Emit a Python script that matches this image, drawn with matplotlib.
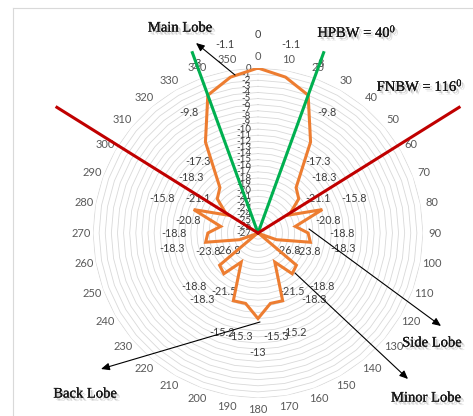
import numpy as np
import matplotlib
matplotlib.use("Agg")
import matplotlib.pyplot as plt
import matplotlib.patheffects as pe
from matplotlib.lines import Line2D

# Radiation pattern (dB) sampled every 10 degrees
angles_deg = list(range(0, 360, 10))
gain_db = [0, -1.1, -3, -9.8, -17.3, -18.3, -21.1, -15.8, -20.8, -18.8,
           -18.3, -23.8, -26.8, -18.8, -18.3, -21.5, -15.2, -15.3, -13,
           -15.3, -15.2, -21.5, -18.3, -18.8, -26.8, -23.8, -18.3, -18.8,
           -20.8, -15.8, -21.1, -18.3, -17.3, -9.8, -3, -1.1]
radial_ticks = list(range(0, -28, -1))
r_min, r_max = -27, 0

# Beamwidth markers (degrees either side of boresight)
hpbw_half = 20
fnbw_half = 58
hpbw_text = "HPBW = 40$^{0}$"
fnbw_text = "FNBW = 116$^{0}$"

plt.rcParams["mathtext.fontset"] = "custom"
plt.rcParams["mathtext.rm"] = "Liberation Serif"
plt.rcParams["mathtext.it"] = "Liberation Serif"

W, H = 473, 416
fig = plt.figure(figsize=(W / 100, H / 100), dpi=100)
fig.patch.set_facecolor("white")

# light chart-area border
fig.add_artist(Line2D([13 / W, 13 / W], [0, 1 - 8 / H], transform=fig.transFigure,
                      color="#d9d9d9", lw=0.8))
fig.add_artist(Line2D([13 / W, 1], [1 - 8 / H, 1 - 8 / H], transform=fig.transFigure,
                      color="#d9d9d9", lw=0.8))

cx, cy, R = 258, 233, 165
ax = fig.add_axes([(cx - R) / W, (H - cy - R) / H, 2 * R / W, 2 * R / H],
                  projection="polar")
ax.set_theta_zero_location("N")
ax.set_theta_direction(-1)
ax.set_ylim(r_min, r_max)
ax.grid(False)
ax.set_xticks([])
ax.set_yticks([])
ax.spines["polar"].set_visible(False)
ax.patch.set_alpha(0)

theta = np.deg2rad(angles_deg)
theta_c = np.append(theta, theta[0])

# polygonal grid rings
for v in range(r_min + 1, r_max + 1):
    ax.plot(theta_c, [v] * len(theta_c), color="#d9d9d9", lw=0.6, zorder=1)

# category labels around the rim
for a in angles_deg:
    ax.text(np.deg2rad(a), r_max + 1.9, str(a), ha="center", va="center",
            color="#595959", clip_on=False, family="Lato", fontsize=8)

# radial axis values along the 0 degree spoke
for v in radial_ticks:
    ax.annotate(str(v), xy=(0, v), xytext=(-5, 0), textcoords="offset points",
                ha="right", va="center", color="#404040", family="Lato",
                fontsize=7)

# data labels
for a, g in zip(angles_deg, gain_db):
    ax.text(np.deg2rad(a), g + 5.5, f"{g:g}", ha="center", va="center",
            color="#404040", clip_on=False, zorder=2, family="Lato",
            fontsize=7.8)

# pattern
g_c = np.append(gain_db, gain_db[0])
ax.plot(theta_c, g_c, color="#ed7d31", lw=2.2, zorder=3, solid_joinstyle="miter")

# beamwidth lines
for s in (-1, 1):
    ax.plot([0, np.deg2rad(s * hpbw_half)], [r_min, 4.4], color="#00b050",
            lw=2.2, clip_on=False, zorder=4)
for s in (-1, 1):
    ax.plot([0, np.deg2rad(s * fnbw_half)], [r_min, 11.8], color="#c00000",
            lw=2.2, clip_on=False, zorder=5)

# callouts
shadow = [pe.withSimplePatchShadow(offset=(1.5, -1.5), shadow_rgbFace="k", alpha=0.18),
          pe.withSimplePatchShadow(offset=(2.5, -2.5), shadow_rgbFace="k", alpha=0.12),
          pe.Normal()]
serif = dict(family="Liberation Serif", fontsize=10.5, color="#1a1a1a",
             ha="center", va="center", path_effects=shadow)

def px(x, y):
    return (x, H - y)

callouts = [
    ("Main Lobe", (180, 28), (235, 75), (196, 43)),
    ("Side Lobe", (432, 343), (309, 229), (441, 326)),
    ("Minor Lobe", (426, 398), (295, 273), (408, 379)),
    ("Back Lobe", (85, 394), (260, 322), (101, 369)),
]
for text, tpos, tail, head in callouts:
    fig.text(tpos[0] / W, 1 - tpos[1] / H, text, **serif)
    ax.annotate("", xy=px(*head), xycoords="figure pixels",
                xytext=px(*tail), textcoords="figure pixels",
                arrowprops=dict(arrowstyle="-|>,head_length=0.5,head_width=0.22",
                                color="black", lw=0.8, shrinkA=0, shrinkB=0),
                annotation_clip=False)

fig.text(357 / W, 1 - 32 / H, hpbw_text, **serif)
fig.text(420 / W, 1 - 86 / H, fnbw_text, **serif)

fig.savefig("out.png", dpi=100)
